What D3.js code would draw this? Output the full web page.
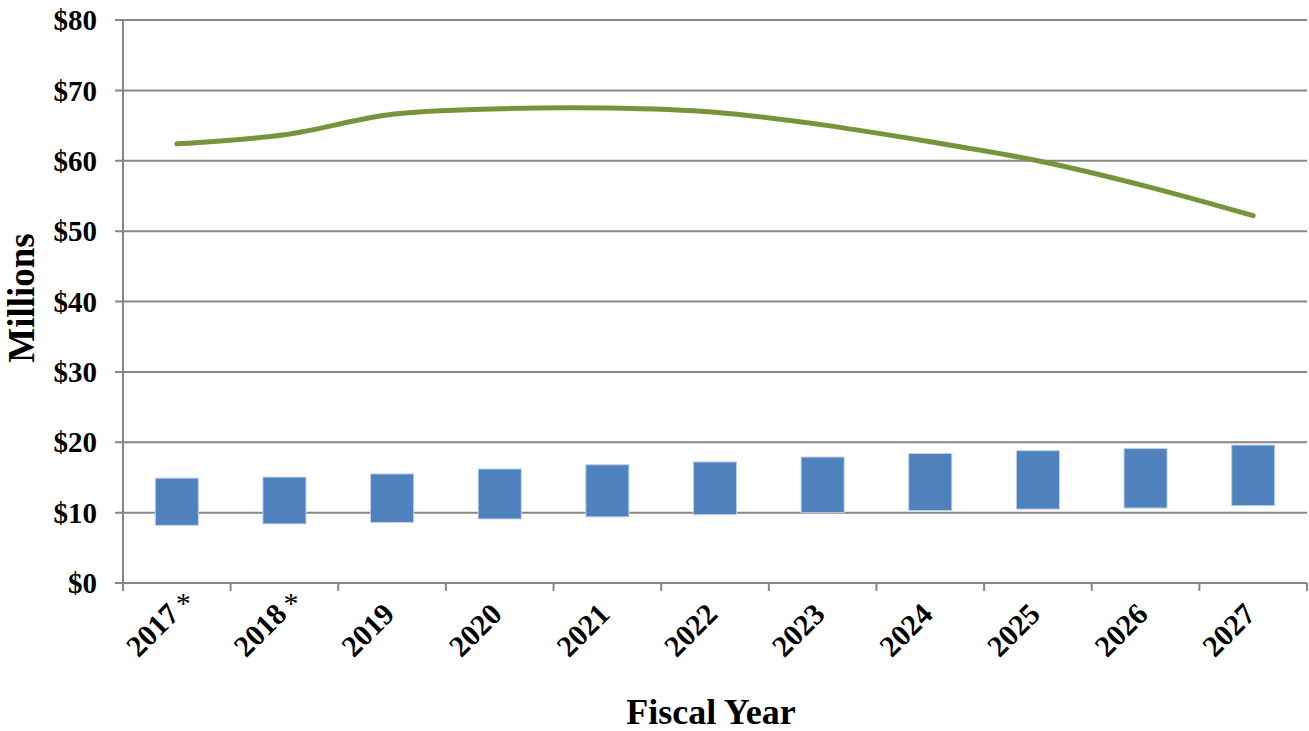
<!DOCTYPE html>
<html lang="en">
<head>
<meta charset="UTF-8">
<title>Fiscal Year</title>
<script src="https://cdn.jsdelivr.net/npm/d3@7"></script>
<style>
  body { margin: 0; background: #fff; }
  text { font-family: "Liberation Serif", "Times New Roman", serif; font-weight: bold; fill: #000; }
  .grid line { stroke: #868686; stroke-width: 2px; }
  .line { fill: none; stroke: #77933c; stroke-width: 5px; stroke-linecap: round; stroke-linejoin: round; }
</style>
</head>
<body>
<svg id="chart" width="1309" height="731"></svg>
<script>
var years = ["2017", "2018", "2019", "2020", "2021", "2022", "2023", "2024", "2025", "2026", "2027"];
var starred = ["2017", "2018"];
var barLow = [8.2, 8.4, 8.6, 9.1, 9.4, 9.7, 10.0, 10.3, 10.5, 10.65, 11.0];
var barHigh = [14.9, 15.05, 15.5, 16.2, 16.8, 17.2, 17.9, 18.4, 18.8, 19.1, 19.6];
var lineValues = [62.4, 63.7, 66.6, 67.4, 67.5, 66.9, 65.1, 62.7, 60.0, 56.4, 52.2];
var yTicks = [0, 10, 20, 30, 40, 50, 60, 70, 80];

var margin = {top: 20, right: 2, bottom: 148, left: 123},
    width = 1309 - margin.left - margin.right,
    height = 731 - margin.top - margin.bottom;

var svg = d3.select("#chart");
var g = svg.append("g").attr("transform", "translate(" + margin.left + "," + margin.top + ")");

var x = d3.scaleBand().domain(years).range([0, width]).padding(0);
var y = d3.scaleLinear().domain([0, 80]).range([height, 0]);

// gridlines
g.append("g").attr("class", "grid")
  .selectAll("line").data(yTicks).enter().append("line")
  .attr("x1", -8).attr("x2", width)
  .attr("y1", function(d) { return y(d); })
  .attr("y2", function(d) { return y(d); });

// y axis line
g.append("line").attr("x1", 0).attr("x2", 0).attr("y1", 0).attr("y2", height)
  .style("stroke", "#868686").style("stroke-width", "2px");

// x tick marks at band edges
var edges = years.map(function(d) { return x(d); }).concat([width]);
g.append("g").selectAll("line").data(edges).enter().append("line")
  .attr("x1", function(d) { return d; }).attr("x2", function(d) { return d; })
  .attr("y1", height).attr("y2", height + 8)
  .style("stroke", "#868686").style("stroke-width", "2px");

// y labels
g.append("g").selectAll("text").data(yTicks).enter().append("text")
  .attr("x", -26)
  .attr("y", function(d) { return y(d); })
  .attr("dy", "0.35em")
  .style("text-anchor", "end")
  .style("font-size", "29px")
  .text(function(d) { return "$" + d; });

// floating bars
var bw = x.bandwidth() * 0.4;
g.append("g").selectAll("rect").data(years).enter().append("rect")
  .attr("x", function(d) { return x(d) + (x.bandwidth() - bw) / 2; })
  .attr("width", bw)
  .attr("y", function(d, i) { return y(barHigh[i]); })
  .attr("height", function(d, i) { return y(barLow[i]) - y(barHigh[i]); })
  .style("fill", "#4f81bd")
  .style("stroke", "#bcd0e8")
  .style("stroke-width", "1px");

// line
var valueline = d3.line()
  .x(function(d, i) { return x(years[i]) + x.bandwidth() / 2; })
  .y(function(d) { return y(d); })
  .curve(d3.curveCatmullRom.alpha(0.5));

g.append("path").datum(lineValues).attr("class", "line").attr("d", valueline);

// x labels
g.append("g").selectAll("text").data(years).enter().append("text")
  .attr("transform", function(d) {
    return "translate(" + (x(d) + x.bandwidth() / 2 + 4) + "," + (height + 33) + ") rotate(-45)";
  })
  .style("text-anchor", "end")
  .style("font-size", "30px")
  .text(function(d) { return d; });

// asterisks for estimated years
g.append("g").selectAll("text").data(starred).enter().append("text")
  .attr("x", function(d) { return x(d) + x.bandwidth() / 2 - 1; })
  .attr("y", height + 30)
  .style("font-size", "30px")
  .style("font-weight", "normal")
  .text("*");

// axis titles
svg.append("text")
  .attr("x", margin.left + width / 2 - 4)
  .attr("y", 724)
  .style("text-anchor", "middle")
  .style("font-size", "36px")
  .text("Fiscal Year");

svg.append("text")
  .attr("transform", "translate(34," + (margin.top + 278) + ") rotate(-90)")
  .style("text-anchor", "middle")
  .style("font-size", "37px")
  .text("Millions");
</script>
</body>
</html>
